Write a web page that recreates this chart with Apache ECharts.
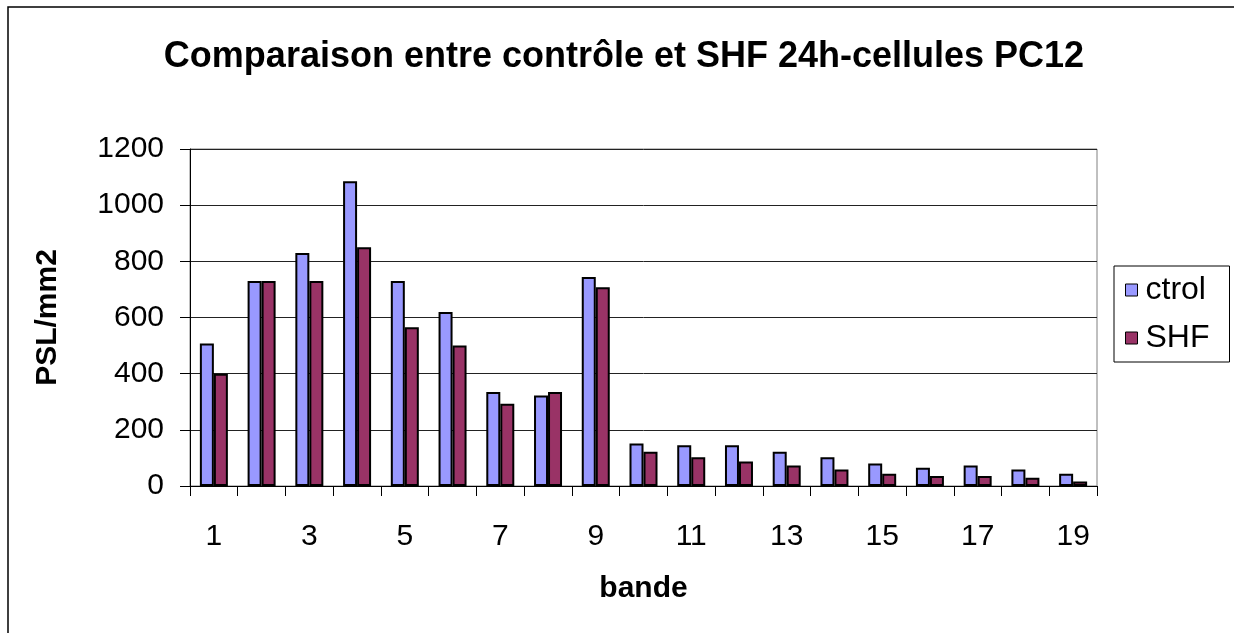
<!DOCTYPE html>
<html>
<head>
<meta charset="utf-8">
<script src="https://cdn.jsdelivr.net/npm/echarts@6/dist/echarts.min.js"></script>
<style>
  html, body { margin: 0; padding: 0; background: #fff; }
  #chart { width: 1234px; height: 633px; }
</style>
</head>
<body>
<div id="chart"></div>
<script>
// Band numbers along the x axis
var bandes = ['1','2','3','4','5','6','7','8','9','10','11','12','13','14','15','16','17','18','19'];
// PSL/mm2 per band, control cells
var ctrol = [507, 730, 830, 1085, 730, 620, 335, 322, 744, 151, 145, 145, 122, 102, 80, 65, 73, 59, 44];
// PSL/mm2 per band, SHF 24h
var shf = [400, 730, 730, 850, 565, 500, 293, 335, 708, 122, 102, 87, 73, 59, 44, 36, 36, 29, 16];

var FONT = '"Liberation Sans", Arial, sans-serif';

var chart = echarts.init(document.getElementById('chart'), null, { renderer: 'canvas' });

chart.setOption({
  animation: false,
  backgroundColor: '#ffffff',
  textStyle: { fontFamily: FONT, color: '#000' },
  graphic: [{
    type: 'rect',
    shape: { x: 8, y: 7, width: 1300, height: 700 },
    style: { fill: 'none', stroke: '#000', lineWidth: 1.5 },
    silent: true
  }],
  title: {
    text: 'Comparaison entre contrôle et SHF 24h-cellules PC12',
    left: 619,
    textAlign: 'center',
    top: 34,
    textStyle: { fontFamily: FONT, fontSize: 36, fontWeight: 'bold', color: '#000' }
  },
  legend: {
    orient: 'vertical',
    left: 1114,
    top: 266,
    padding: [8, 20, 8, 11],
    itemGap: 16,
    itemWidth: 12,
    itemHeight: 12,
    borderColor: '#000',
    borderWidth: 1,
    icon: 'rect',
    itemStyle: { borderColor: '#000', borderWidth: 1 },
    textStyle: { fontFamily: FONT, fontSize: 32, color: '#000', padding: [0, 0, 0, 3] },
    data: ['ctrol', 'SHF']
  },
  grid: {
    left: 190,
    right: 137,
    top: 149,
    bottom: 147,
    show: true,
    borderColor: '#808080',
    borderWidth: 1
  },
  xAxis: {
    type: 'category',
    data: bandes,
    name: 'bande',
    nameLocation: 'middle',
    nameGap: 88,
    nameTextStyle: { fontFamily: FONT, fontSize: 30, fontWeight: 'bold', color: '#000' },
    axisLine: { lineStyle: { color: '#000', width: 1 } },
    axisTick: { show: true, interval: 0, length: 10, lineStyle: { color: '#000' } },
    axisLabel: { interval: 1, margin: 36, fontFamily: FONT, fontSize: 30, color: '#000' },
    splitLine: { show: false }
  },
  yAxis: {
    type: 'value',
    min: 0,
    max: 1200,
    interval: 200,
    name: 'PSL/mm2',
    nameLocation: 'middle',
    nameRotate: 90,
    nameGap: 127,
    nameTextStyle: { fontFamily: FONT, fontSize: 30, fontWeight: 'bold', color: '#000' },
    axisLine: { show: true, lineStyle: { color: '#000', width: 1 } },
    axisTick: { show: true, length: 10, lineStyle: { color: '#000' } },
    axisLabel: {
      margin: 26, fontFamily: FONT, fontSize: 30, color: '#000',
      formatter: function (v) { return String(v); }
    },
    splitLine: { show: true, lineStyle: { color: '#222', width: 1 } }
  },
  series: [{
    name: 'ctrol',
    type: 'bar',
    data: ctrol,
    barWidth: 14,
    barGap: '0%',
    itemStyle: { color: '#9999FF', borderColor: '#000', borderWidth: 2 }
  }, {
    name: 'SHF',
    type: 'bar',
    data: shf,
    barWidth: 14,
    itemStyle: { color: '#993366', borderColor: '#000', borderWidth: 2 }
  }]
});
</script>
</body>
</html>
